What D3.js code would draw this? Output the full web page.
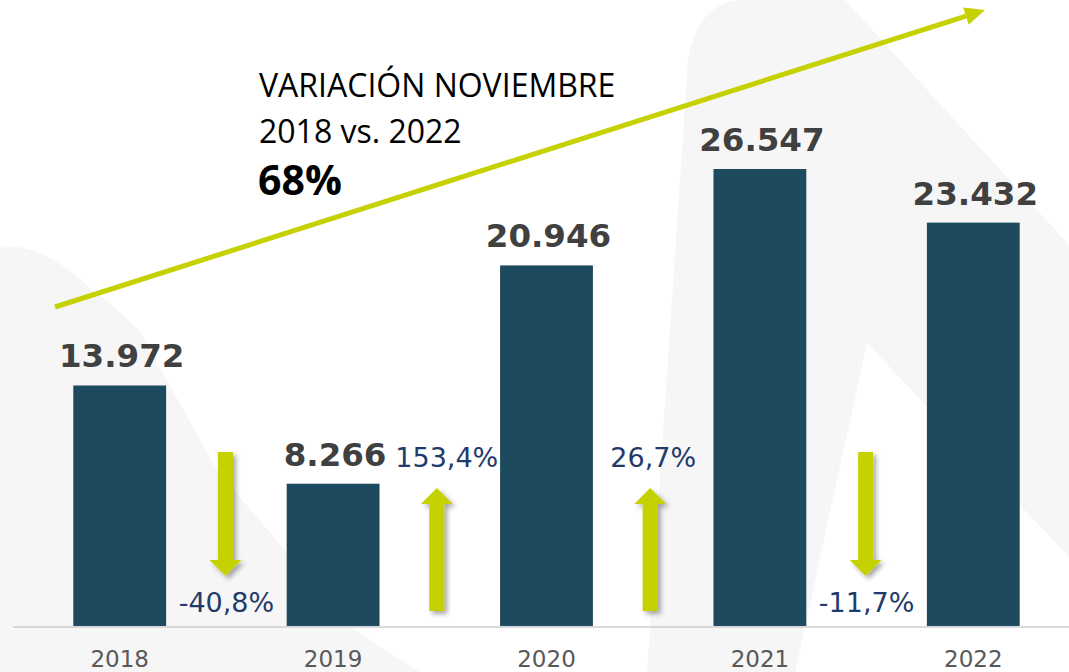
<!DOCTYPE html>
<html>
<head>
<meta charset="utf-8">
<script src="https://cdn.jsdelivr.net/npm/d3@7"></script>
<style>
  html, body { margin: 0; padding: 0; background: #fff; }
  svg { display: block; }
</style>
</head>
<body>
<div id="chart"></div>
<script>
// Chart data
const years = ['2018', '2019', '2020', '2021', '2022'];
const values = [13972, 8266, 20946, 26547, 23432];
const changes = [-40.8, 153.4, 26.7, -11.7]; // year over year
const titleLines = ['VARIACIÓN NOVIEMBRE', '2018 vs. 2022'];
const totalChange = '68%';

const width = 1069;
const height = 672;
const green = '#c5d100';

const svg = d3.select('#chart')
  .append('svg')
  .attr('width', width)
  .attr('height', height);

// Drop shadow for the yellow arrows
const defs = svg.append('defs');
defs.append('filter')
  .attr('id', 'shadow')
  .attr('x', '-50%').attr('y', '-20%')
  .attr('width', '200%').attr('height', '140%')
  .append('feDropShadow')
  .attr('dx', 3).attr('dy', 3)
  .attr('stdDeviation', 2.5)
  .attr('flood-color', '#000')
  .attr('flood-opacity', 0.35);

// Faint watermark shapes in the background
const bg = svg.append('g').attr('fill', '#f6f6f6');
bg.append('path')
  .attr('d', 'M0,672 L0,248 Q40,240 90,288 Q120,310 140,332 L217,470 L350,627 L420,672 Z');
bg.append('path')
  .attr('d', 'M647,672 L688,60 Q698,0 745,0 L845,0 L1069,245 L1069,557 L867,343 L795,672 Z');

// Scales
const x = d3.scaleBand()
  .domain(years)
  .range([13, 1080])
  .paddingInner(0.565)
  .paddingOuter(0.2825);

const y = d3.scaleLinear()
  .domain([0, d3.max(values)])
  .range([626, 169]);

const fmt = d3.formatLocale({ decimal: ',', thousands: '.', grouping: [3], currency: ['', ''], minus: '-' });
const fmtValue = fmt.format(',d');
const fmtPct = fmt.format('.1f');

// Bars
svg.append('g')
  .selectAll('rect')
  .data(values)
  .join('rect')
  .attr('x', (d, i) => x(years[i]))
  .attr('y', d => y(d))
  .attr('width', x.bandwidth())
  .attr('height', d => y(0) - y(d))
  .attr('fill', '#1d4a5e');

// Baseline
svg.append('line')
  .attr('x1', 13).attr('x2', width)
  .attr('y1', y(0) + 1).attr('y2', y(0) + 1)
  .attr('stroke', '#d9d9d9')
  .attr('stroke-width', 2);

// Year labels
const xAxis = svg.append('g')
  .attr('transform', `translate(0,${y(0)})`)
  .call(d3.axisBottom(x).tickSize(0).tickPadding(0));
xAxis.select('.domain').remove();
xAxis.selectAll('text')
  .attr('dy', null)
  .attr('y', 41)
  .attr('font-family', 'DejaVu Sans, Verdana, sans-serif')
  .attr('font-size', 23)
  .attr('fill', '#595959');

// Value labels
svg.append('g')
  .selectAll('text')
  .data(values)
  .join('text')
  .attr('x', (d, i) => x(years[i]) + x.bandwidth() / 2 + 2)
  .attr('y', d => y(d) - 18)
  .attr('text-anchor', 'middle')
  .attr('font-family', 'DejaVu Sans, Verdana, sans-serif')
  .attr('font-weight', 'bold')
  .attr('font-size', 32.5)
  .attr('fill', '#404040')
  .text(d => fmtValue(d));

// Change arrows between bars
const mid = i => (x(years[i]) + x(years[i + 1]) + x.bandwidth()) / 2;

function blockArrow(cx, yFrom, yTip) {
  const dir = yTip > yFrom ? 1 : -1;
  const shaft = 7.5, head = 16, headLen = 16;
  const yBase = yTip - dir * headLen;
  return `M${cx - shaft},${yFrom} L${cx + shaft},${yFrom} L${cx + shaft},${yBase}
    L${cx + head},${yBase} L${cx},${yTip} L${cx - head},${yBase}
    L${cx - shaft},${yBase} Z`;
}

const changeG = svg.append('g');
changeG.selectAll('path')
  .data(changes)
  .join('path')
  .attr('d', (d, i) => d < 0
    ? blockArrow(mid(i) - 1, 452, 576)
    : blockArrow(mid(i) - 3, 611, 488))
  .attr('fill', green)
  .attr('filter', 'url(#shadow)');

changeG.selectAll('text')
  .data(changes)
  .join('text')
  .attr('x', (d, i) => mid(i) + (d > 100 ? 7 : 0))
  .attr('y', d => d < 0 ? 612 : 467)
  .attr('text-anchor', 'middle')
  .attr('font-family', 'DejaVu Sans, Verdana, sans-serif')
  .attr('font-size', 27)
  .attr('fill', '#1f3b6b')
  .text(d => fmtPct(d) + '%');

// Overall trend arrow
const trend = { x1: 55, y1: 307, x2: 985, y2: 10 };
const ang = Math.atan2(trend.y2 - trend.y1, trend.x2 - trend.x1);
const hl = 20, hw = 9;
const bx = trend.x2 - hl * Math.cos(ang), by = trend.y2 - hl * Math.sin(ang);
svg.append('line')
  .attr('x1', trend.x1).attr('y1', trend.y1)
  .attr('x2', bx).attr('y2', by)
  .attr('stroke', green)
  .attr('stroke-width', 5);
svg.append('path')
  .attr('d', `M${trend.x2},${trend.y2}
    L${bx + hw * Math.sin(ang)},${by - hw * Math.cos(ang)}
    L${bx - hw * Math.sin(ang)},${by + hw * Math.cos(ang)} Z`)
  .attr('fill', green);

// Annotation
const note = svg.append('g')
  .attr('font-family', 'Open Sans, sans-serif')
  .attr('fill', '#000');
note.selectAll('text.line')
  .data(titleLines)
  .join('text')
  .attr('class', 'line')
  .attr('x', 259)
  .attr('y', (d, i) => 97 + i * 45.5)
  .attr('font-size', 32)
  .text(d => d);
note.append('text')
  .attr('x', 258)
  .attr('y', 195)
  .attr('font-size', 41)
  .attr('font-weight', 'bold')
  .text(totalChange);
</script>
</body>
</html>
